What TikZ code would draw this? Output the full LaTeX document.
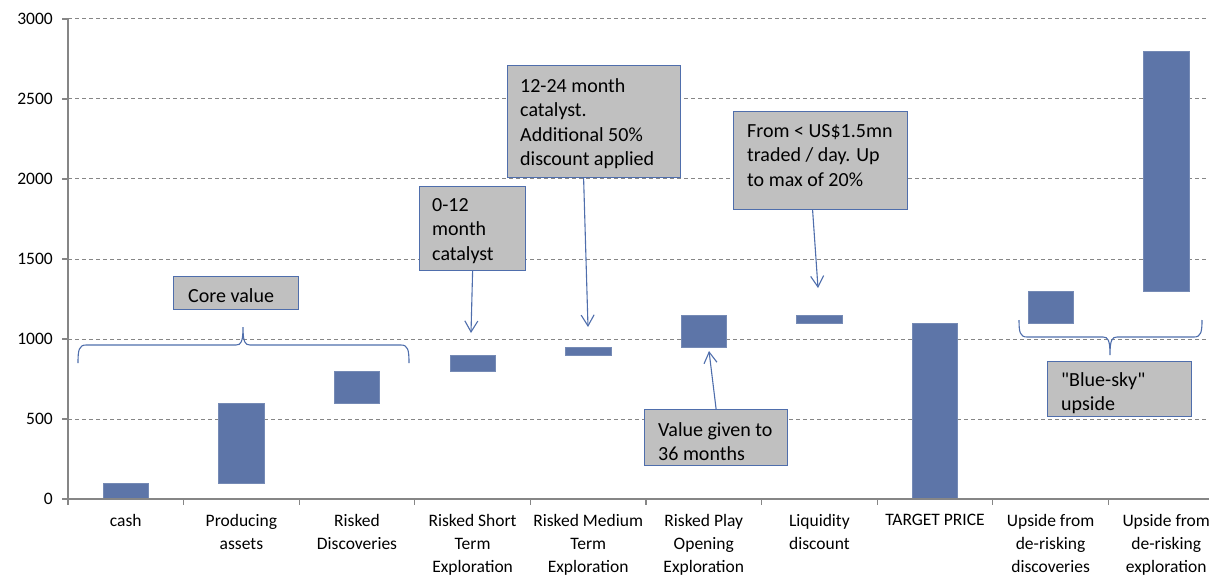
\documentclass[tikz,border=0pt]{standalone}
\usepackage{fontspec}
\setmainfont{Carlito}[Ligatures=TeXOff]
\usetikzlibrary{arrows.meta,calc}
\definecolor{barblue}{RGB}{93,117,168}
\definecolor{edgeblue}{RGB}{79,110,172}
\definecolor{axisgray}{RGB}{134,134,134}
\definecolor{boxgray}{RGB}{192,192,192}
\tikzset{
 grid line/.style={axisgray, line width=1pt, dash pattern=on 4pt off 3pt},
 axis line/.style={axisgray, line width=1.8pt},
 bar/.style={fill=barblue, draw=barblue!85!white, line width=0.5pt},
 callout/.style={draw=edgeblue, fill=boxgray, line width=1.2pt, inner sep=0pt, anchor=north west},
 ctext/.style={inner sep=0pt, anchor=north west, align=left, font=\fontsize{20}{24.5}\selectfont},
 catlabel/.style={inner sep=0pt, anchor=north, align=center, font=\fontsize{17.5}{23}\selectfont},
 ticklabel/.style={inner sep=0pt, anchor=east, font=\fontsize{17.5}{21}\selectfont},
 pointer/.style={draw=edgeblue, line width=1.1pt, -{Straight Barb[length=11pt,width=13pt]}},
 bracepath/.style={draw=edgeblue, line width=1.1pt},
}
\begin{document}
\begin{tikzpicture}[x=1pt,y=-1pt]
\useasboundingbox (0,0) rectangle (1209,576);
% grid
\foreach \v in {500,1000,...,3000}
  \draw[grid line] (68,{499-0.16*\v}) -- (1209,{499-0.16*\v});
% bars
\foreach \i/\a/\b in {1/0/100,2/100/600,3/600/800,4/800/900,5/900/950,6/950/1150,7/1100/1150,8/0/1100,9/1100/1300,10/1300/2800}
  \path[bar] ({68+115.6*(\i-0.5)-22.7},{499-0.16*\a}) rectangle ({68+115.6*(\i-0.5)+22.7},{499-0.16*\b});
% axes
\draw[axis line] (68,19) -- (68,499) -- (1209,499);
\foreach \v in {0,500,...,3000}
  \draw[axis line,line width=1.2pt] (62,{499-0.16*\v}) -- (68,{499-0.16*\v});
\foreach \k in {0,...,9}
  \draw[axis line,line width=1.2pt] ({68+115.6*\k},499) -- ({68+115.6*\k},505);
\foreach \v in {0,500,...,3000}
  \node[ticklabel] (yl\v) at (53,{499-0.16*\v}) {\v};
% category labels
\node[catlabel] (cat1) at (125.8,514) {cash};
\node[catlabel] (cat2) at (241.4,514) {Producing\\assets};
\node[catlabel] (cat3) at (357.0,514) {Risked\\Discoveries};
\node[catlabel] (cat4) at (472.6,514) {Risked Short\\Term\\Exploration};
\node[catlabel] (cat5) at (588.2,514) {Risked Medium\\Term\\Exploration};
\node[catlabel] (cat6) at (703.8,514) {Risked Play\\Opening\\Exploration};
\node[catlabel] (cat7) at (819.4,514) {Liquidity\\discount};
\node[catlabel] (cat8) at (935.0,514) {TARGET PRICE};
\node[catlabel] (cat9) at (1050.6,514) {Upside from\\de-risking\\discoveries};
\node[catlabel] (cat10) at (1166.2,514) {Upside from\\de-risking\\exploration};
% callout boxes
\node[callout, minimum width=125pt, minimum height=33pt] (core) at (173,276) {};
\node[callout, minimum width=106pt, minimum height=84pt] (b012) at (419,186) {};
\node[callout, minimum width=173pt, minimum height=112pt] (b1224) at (507,65) {};
\node[callout, minimum width=174pt, minimum height=98pt] (bliq) at (733,111) {};
\node[callout, minimum width=143pt, minimum height=56pt] (bval) at (644,409) {};
\node[callout, minimum width=144pt, minimum height=55pt] (bsky) at (1047,361) {};
\node[ctext] (coret) at (188,288) {Core value};
\node[ctext] (b012t) at (432,198) {0-12\\month\\catalyst};
\node[ctext] (b1224t) at (520,78) {12-24 month\\catalyst.\\Additional 50\%\\discount applied};
\node[ctext] (bliqt) at (747,124) {From < US\$1.5mn\\traded / day. Up\\to max of 20\%};
\node[ctext] (bvalt) at (658,422) {Value given to\\36 months};
\node[ctext] (bskyt) at (1061,372) {"Blue-sky"\\upside};
% braces
\draw[bracepath] (78,363) .. controls (78,350) and (79,345) .. (86,345) -- (236,345)
  .. controls (241,345) and (243,342) .. (243,327)
  .. controls (243,342) and (245,345) .. (250,345) -- (401,345)
  .. controls (408,345) and (409,350) .. (409,363);
\draw[bracepath] (1019,320) .. controls (1019,332) and (1020,337) .. (1027,337) -- (1103,337)
  .. controls (1108,337) and (1110,340) .. (1110,355)
  .. controls (1110,340) and (1112,337) .. (1117,337) -- (1194,337)
  .. controls (1201,337) and (1202,332) .. (1202,320);
% pointers
\coordinate (p012) at (471,333);
\coordinate (p1224) at (588,327);
\coordinate (pliq) at (818,288);
\coordinate (pval) at (709,351);
\draw[pointer] (b012.south) -- (p012);
\draw[pointer] ([xshift=-10.5pt]b1224.south) -- (p1224);
\draw[pointer] ([xshift=-8pt]bliq.south) -- (pliq);
\draw[pointer] (bval.north) -- (pval);
\end{tikzpicture}
\end{document}
